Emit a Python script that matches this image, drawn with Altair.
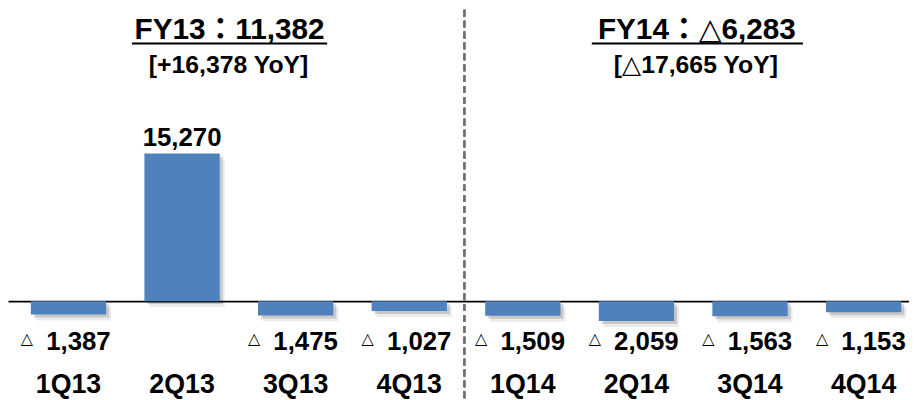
import altair as alt
import pandas as pd

quarters = ["1Q13", "2Q13", "3Q13", "4Q13", "1Q14", "2Q14", "3Q14", "4Q14"]
values = [-1387, 15270, -1475, -1027, -1509, -2059, -1563, -1153]
titles = ["FY13：11,382", "FY14：△6,283"]
subtitles = ["[+16,378 YoY]", "[△17,665 YoY]"]

df = pd.DataFrame({"q": quarters, "v": values})
df["label"] = [f"{abs(v):,}" for v in values]
df["tri"] = ["△" if v < 0 else "" for v in values]

FONT = "Liberation Sans, Arial, DejaVu Sans, Noto Sans CJK JP"
BLUE = "#4F81BD"

xs = alt.X("q:N", sort=quarters, axis=None,
           scale=alt.Scale(paddingInner=0.337, paddingOuter=0.1345, align=0.747))
ys = alt.Y("v:Q", stack=None,
           scale=alt.Scale(domain=[-10043, 30130], nice=False),
           axis=alt.Axis(values=[0], grid=True, gridColor="#000000", gridWidth=2,
                         domain=False, ticks=False, labels=False, title=None))

base = alt.Chart(df)

shadow_a = base.mark_bar(color="#000000", opacity=0.08, xOffset=5, yOffset=6).encode(
    x=xs, y=alt.Y("v:Q"))
shadow_b = base.mark_bar(color="#000000", opacity=0.15, xOffset=3, yOffset=3).encode(
    x=xs, y=alt.Y("v:Q"))
bars = base.mark_bar(color=BLUE).encode(x=xs, y=ys)

pos_lbl = base.transform_filter("datum.v > 0").mark_text(
    font=FONT, fontSize=26, fontWeight="bold", baseline="alphabetic", dy=-8, color="#000"
).encode(x=xs, y=alt.Y("v:Q"), text="label:N")

neg_lbl = base.transform_filter("datum.v < 0").mark_text(
    font=FONT, fontSize=26, fontWeight="bold", baseline="alphabetic", dx=10, color="#000"
).encode(x=xs, y=alt.value(343), text="label:N")

neg_tri = base.transform_filter("datum.v < 0").mark_text(
    font="DejaVu Sans", fontSize=16, fontWeight="bold", baseline="alphabetic", dx=-42, color="#000"
).encode(x=xs, y=alt.value(337), text="tri:N")

cat_lbl = base.mark_text(
    font=FONT, fontSize=27, fontWeight="bold", baseline="alphabetic", color="#000"
).encode(x=xs, y=alt.value(387), text="q:N")

divider = base.mark_rule(color="#6f6f6f", strokeWidth=1.5, strokeDash=[7, 4]).encode(
    x=alt.value(460.5), y=alt.value(0), y2=alt.value(392))

layers = [shadow_a, shadow_b, bars, divider, pos_lbl, neg_lbl, neg_tri, cat_lbl]

specs = [(0, 223.5, 125, 322), (1, 695, 589, 802)]
for i, cx, ux1, ux2 in specs:
    tdf = pd.DataFrame({"t": [titles[i]], "s": [subtitles[i]]})
    tb = alt.Chart(tdf)
    layers.append(tb.mark_text(
        font=FONT, fontSize=30, fontWeight="bold", baseline="alphabetic", color="#000"
    ).encode(x=alt.value(cx), y=alt.value(30), text="t:N"))
    layers.append(tb.mark_text(
        font=FONT, fontSize=25, fontWeight="bold", baseline="alphabetic", color="#000"
    ).encode(x=alt.value(cx - 1), y=alt.value(64), text="s:N"))
    layers.append(tb.mark_rule(color="#000", strokeWidth=2).encode(
        x=alt.value(ux1), x2=alt.value(ux2), y=alt.value(34)))

chart = alt.layer(*layers).properties(
    width=909, height=392, autosize=alt.AutoSizeParams(type="none"), padding=0,
    background="#ffffff"
).configure_view(stroke=None)

chart.save("out.html", embed_options={"renderer": "svg", "actions": False})
